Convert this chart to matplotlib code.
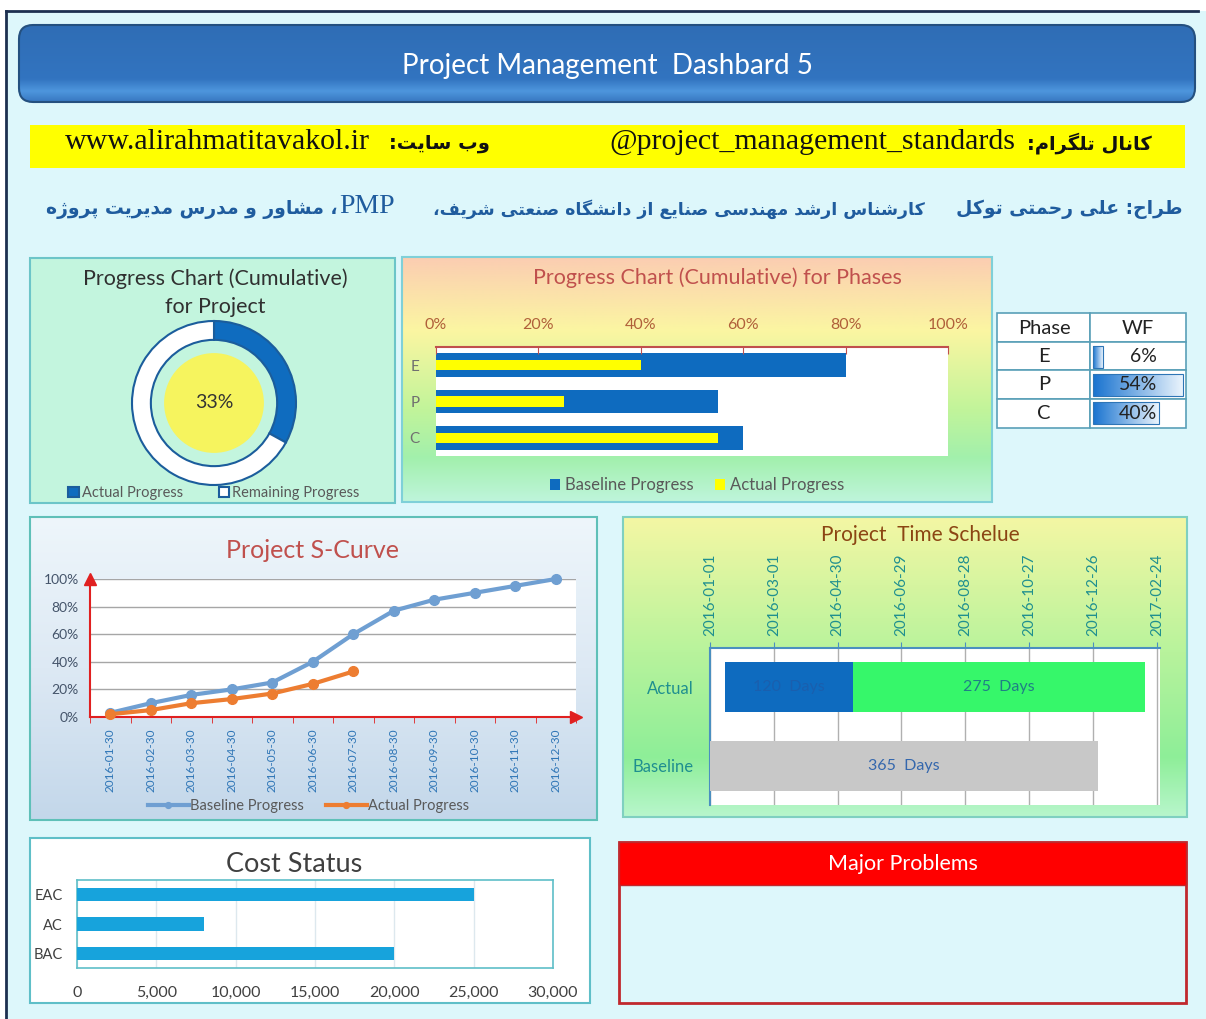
import numpy as np
import matplotlib
matplotlib.use("Agg")
import matplotlib.pyplot as plt
from matplotlib.patches import Rectangle, FancyBboxPatch, Circle
from matplotlib.colors import LinearSegmentedColormap
from matplotlib.ticker import PercentFormatter, FuncFormatter

plt.rcParams['font.family'] = ['Lato', 'DejaVu Sans']

# ---- data ----
title = "Project Management  Dashbard 5"
telegram = "@project_management_standards"
website = "www.alirahmatitavakol.ir"

donut_actual = 33

phases = ["E", "P", "C"]
phase_baseline = [0.80, 0.55, 0.60]
phase_actual = [0.40, 0.25, 0.55]
phase_wf = [6, 54, 40]

s_dates = ["2016-01-30", "2016-02-30", "2016-03-30", "2016-04-30", "2016-05-30", "2016-06-30",
           "2016-07-30", "2016-08-30", "2016-09-30", "2016-10-30", "2016-11-30", "2016-12-30"]
s_baseline = [0.03, 0.10, 0.16, 0.20, 0.25, 0.40, 0.60, 0.77, 0.85, 0.90, 0.95, 1.00]
s_actual = [0.02, 0.05, 0.10, 0.13, 0.17, 0.24, 0.33]

time_ticks = ["2016-01-01", "2016-03-01", "2016-04-30", "2016-06-29",
              "2016-08-28", "2016-10-27", "2016-12-26", "2017-02-24"]
tick_days = [0, 60, 120, 180, 240, 300, 360, 420]
actual_start = 14
actual_done = 120
actual_left = 275
baseline_days = 365

cost_labels = ["EAC", "AC", "BAC"]
cost_values = [25000, 8000, 20000]

# ---- persian shaping (matplotlib has no arabic shaping) ----
F = {
    '\u0627': ('\uFE8D', '\uFE8E'), '\u0622': ('\uFE81', '\uFE82'),
    '\u062F': ('\uFEA9', '\uFEAA'), '\u0630': ('\uFEAB', '\uFEAC'),
    '\u0631': ('\uFEAD', '\uFEAE'), '\u0632': ('\uFEAF', '\uFEB0'),
    '\u0698': ('\uFB8A', '\uFB8B'), '\u0648': ('\uFEED', '\uFEEE'),
    '\u0628': ('\uFE8F', '\uFE90', '\uFE91', '\uFE92'),
    '\u067E': ('\uFB56', '\uFB57', '\uFB58', '\uFB59'),
    '\u062A': ('\uFE95', '\uFE96', '\uFE97', '\uFE98'),
    '\u062B': ('\uFE99', '\uFE9A', '\uFE9B', '\uFE9C'),
    '\u062C': ('\uFE9D', '\uFE9E', '\uFE9F', '\uFEA0'),
    '\u0686': ('\uFB7A', '\uFB7B', '\uFB7C', '\uFB7D'),
    '\u062D': ('\uFEA1', '\uFEA2', '\uFEA3', '\uFEA4'),
    '\u062E': ('\uFEA5', '\uFEA6', '\uFEA7', '\uFEA8'),
    '\u0633': ('\uFEB1', '\uFEB2', '\uFEB3', '\uFEB4'),
    '\u0634': ('\uFEB5', '\uFEB6', '\uFEB7', '\uFEB8'),
    '\u0635': ('\uFEB9', '\uFEBA', '\uFEBB', '\uFEBC'),
    '\u0636': ('\uFEBD', '\uFEBE', '\uFEBF', '\uFEC0'),
    '\u0637': ('\uFEC1', '\uFEC2', '\uFEC3', '\uFEC4'),
    '\u0638': ('\uFEC5', '\uFEC6', '\uFEC7', '\uFEC8'),
    '\u0639': ('\uFEC9', '\uFECA', '\uFECB', '\uFECC'),
    '\u063A': ('\uFECD', '\uFECE', '\uFECF', '\uFED0'),
    '\u0641': ('\uFED1', '\uFED2', '\uFED3', '\uFED4'),
    '\u0642': ('\uFED5', '\uFED6', '\uFED7', '\uFED8'),
    '\u06A9': ('\uFB8E', '\uFB8F', '\uFB90', '\uFB91'),
    '\u06AF': ('\uFB92', '\uFB93', '\uFB94', '\uFB95'),
    '\u0644': ('\uFEDD', '\uFEDE', '\uFEDF', '\uFEE0'),
    '\u0645': ('\uFEE1', '\uFEE2', '\uFEE3', '\uFEE4'),
    '\u0646': ('\uFEE5', '\uFEE6', '\uFEE7', '\uFEE8'),
    '\u0647': ('\uFEE9', '\uFEEA', '\uFEEB', '\uFEEC'),
    '\u06CC': ('\uFBFC', '\uFBFD', '\uFBFE', '\uFBFF'),
}


def fa(s):
    out = []
    for i, c in enumerate(s):
        if c not in F:
            out.append(c)
            continue
        p = s[i - 1] if i > 0 else ''
        n = s[i + 1] if i + 1 < len(s) else ''
        jp = p in F and len(F[p]) == 4
        jn = n in F and len(F[c]) == 4
        f = F[c]
        if jp and jn:
            out.append(f[3])
        elif jp:
            out.append(f[1])
        elif jn:
            out.append(f[2])
        else:
            out.append(f[0])
    return ''.join(out)[::-1]


W, H = 1206, 1019
fig = plt.figure(figsize=(12.06, 10.19), dpi=100)
fig.patch.set_facecolor('white')
bg = fig.add_axes([0, 0, 1, 1])
bg.axis('off')

BG = '#ddf7fb'


def px_axes(x0, y0, x1, y1):
    return fig.add_axes([x0 / W, 1 - y1 / H, (x1 - x0) / W, (y1 - y0) / H])


def grad(x0, y0, x1, y1, stops, horizontal=False, z=1, ax=None):
    ax = ax or bg
    cmap = LinearSegmentedColormap.from_list('g', stops)
    arr = np.linspace(0, 1, 256).reshape(-1, 1)
    if horizontal:
        arr = arr.T
    return ax.imshow(arr, cmap=cmap, extent=(x0, x1, y1, y0), aspect='auto',
                     zorder=z, interpolation='bilinear')


def rect(x0, y0, x1, y1, **kw):
    r = Rectangle((x0, y0), x1 - x0, y1 - y0, **kw)
    bg.add_patch(r)
    return r


# page background and frame
rect(6, 11, W, H, facecolor=BG, edgecolor='none', zorder=0)
bg.plot([6, 6], [11, H], color='#1c3050', lw=2, zorder=5)
bg.plot([6, 1198], [11, 11], color='#1c3050', lw=2, zorder=5)

# header
hdr = FancyBboxPatch((19, 25), 1176, 77, boxstyle='round,pad=0,rounding_size=14',
                     facecolor='none', edgecolor='#24507f', lw=1.5, zorder=3)
bg.add_patch(hdr)
im = grad(19, 25, 1195, 102, [(0, '#2f6db5'), (0.7, '#3274c0'), (0.86, '#4e96dd'), (1, '#3777c0')], z=2)
im.set_clip_path(hdr)
bg.text(607, 66, title, color='white', fontsize=20, ha='center', va='center', zorder=4)

# yellow strip
FA_SIZE = 14
rect(30, 125, 1185, 168, facecolor='#ffff00', edgecolor='none', zorder=2)
bg.text(1152, 143, fa('کانال تلگرام:'), family=['DejaVu Sans'], fontweight='bold',
        fontsize=FA_SIZE, ha='right', va='center', color='#111111', zorder=3)
bg.text(1015, 142, telegram, family=['Liberation Serif'], fontsize=21.5,
        ha='right', va='center', color='#111111', zorder=3)
bg.text(490, 143, fa('وب سایت:'), family=['DejaVu Sans'], fontweight='bold',
        fontsize=FA_SIZE, ha='right', va='center', color='#111111', zorder=3)
bg.text(370, 142, website, family=['Liberation Serif'], fontsize=21.5,
        ha='right', va='center', color='#111111', zorder=3)

# designer line
BLUE_T = '#1f5c9e'
bg.text(1183, 209, fa('طراح: علی رحمتی توکل'), family=['DejaVu Sans'], fontweight='bold',
        fontsize=13.5, ha='right', va='center', color=BLUE_T, zorder=3)
bg.text(925, 209, fa('کارشناس ارشد مهندسی صنایع از دانشگاه صنعتی شریف،'), family=['DejaVu Sans'],
        fontweight='bold', fontsize=12.5, ha='right', va='center', color=BLUE_T, zorder=3)
bg.text(367, 206, 'PMP', family=['Liberation Serif'], fontsize=20, ha='center', va='center',
        color=BLUE_T, zorder=3)
bg.text(337, 209, fa('، مشاور و مدرس مدیریت پروژه'), family=['DejaVu Sans'], fontweight='bold',
        fontsize=13.5, ha='right', va='center', color=BLUE_T, zorder=3)

# ---- panel 1: donut ----
rect(30, 258, 395, 503, facecolor='#c3f5de', edgecolor='#6cc5c8', lw=1.5, zorder=1)
bg.text(215, 279, 'Progress Chart (Cumulative)', fontsize=15.5, ha='center',
        va='center', color='#303030', zorder=3)
bg.text(215, 307, 'for Project', fontsize=15.5, ha='center',
        va='center', color='#303030', zorder=3)
ax = px_axes(132, 321, 296, 485)
ax.set_facecolor('none')
wedges, _ = ax.pie([donut_actual, 100 - donut_actual], colors=['#0f6cbf', 'white'], startangle=90,
                   counterclock=False, radius=1,
                   wedgeprops=dict(width=0.23, edgecolor='#1b5d9c', linewidth=1.5))
ax.add_patch(Circle((0, 0), 0.6, color='#f6f45e', zorder=0))
ax.text(0, 0, f'{donut_actual}%', ha='center', va='center', fontsize=14, color='#333333')
ax.set_xlim(-1, 1)
ax.set_ylim(-1, 1)
ax.legend(wedges, ['Actual Progress', 'Remaining Progress'], loc='center',
          bbox_to_anchor=(0.5, -0.05), ncol=2, frameon=False, fontsize=10.5,
          handlelength=0.7, handleheight=0.7, handletextpad=0.2, columnspacing=2.5,
          labelcolor='#595959')

# ---- panel 2: phases ----
rect(402, 257, 992, 502, facecolor='none', edgecolor='#7fd0d8', lw=1.5, zorder=2)
grad(402, 257, 992, 502, [(0, '#fbcdb2'), (0.3, '#fbf6a2'), (0.62, '#c2f49a'),
                          (0.82, '#a2f0ac'), (1, '#bff5dc')], z=1)
bg.text(717, 278, 'Progress Chart (Cumulative) for Phases', fontsize=15.5, ha='center',
        va='center', color='#c0504d', zorder=3)
ax = px_axes(436, 347, 948, 456)
ax.set_facecolor('white')
yy = np.arange(len(phases))
ax.barh(yy, phase_baseline, height=0.66, color='#0e6bbf', label='Baseline Progress')
ax.barh(yy, phase_actual, height=0.28, color='#ffff00', label='Actual Progress')
ax.set_xlim(0, 1)
ax.set_ylim(2.5, -0.5)
ax.xaxis.tick_top()
ax.set_xticks(np.arange(0, 1.01, 0.2))
ax.xaxis.set_major_formatter(PercentFormatter(1, decimals=0))
ax.tick_params(axis='x', colors='#c0504d', labelcolor='#b0603a', direction='in', length=5,
               labelsize=11.5, pad=11)
ax.set_yticks(yy, phases)
ax.tick_params(axis='y', length=0, labelcolor='#707070', labelsize=11, pad=12)
for s in ['left', 'right', 'bottom']:
    ax.spines[s].set_visible(False)
ax.spines['top'].set_color('#c0504d')
ax.spines['top'].set_linewidth(1.5)
ax.legend(loc='center', bbox_to_anchor=(0.51, -0.27), ncol=2, frameon=False, fontsize=12,
          handlelength=0.6, handleheight=0.6, handletextpad=0.3, columnspacing=1.3,
          labelcolor='#595959')

# ---- WF table ----
cols = [997, 1090, 1186]
rows = [313, 342, 370, 399, 428]
for r in range(4):
    for c in range(2):
        rect(cols[c], rows[r], cols[c + 1], rows[r + 1], facecolor='white', edgecolor='#5aa0b8',
             lw=1.2, zorder=2)
bg.text(1044, 328, 'Phase', fontsize=14.5, ha='center', va='center', color='#222222', zorder=3)
bg.text(1138, 328, 'WF', fontsize=14.5, ha='center', va='center', color='#222222', zorder=3)
for i, p in enumerate(phases):
    bg.text(1044, (rows[i + 1] + rows[i + 2]) / 2, p, fontsize=14.5, ha='center', va='center',
            color='#222222', zorder=3)
ax = px_axes(1091, 343, 1185, 427)
ax.axis('off')
bars = ax.barh(yy, [v / 100 for v in phase_wf], height=0.8, color='none', edgecolor='#2e75b6',
               lw=0.8, zorder=3)
bar_cmap = LinearSegmentedColormap.from_list('wf', ['#1a74d0', '#e9f3fc'])
for b, v in zip(bars, phase_wf):
    g = ax.imshow(np.linspace(0, 1, 64).reshape(1, -1), cmap=bar_cmap, aspect='auto',
                  extent=(0, v / 100, b.get_y() + b.get_height(), b.get_y()), zorder=2)
    g.set_clip_path(b)
ax.set_xlim(-0.015, 0.555)
ax.set_ylim(2.5, -0.5)
for i, v in enumerate(phase_wf):
    yc = (rows[i + 1] + rows[i + 2]) / 2
    fig.text(1157 / W, 1 - yc / H, f'{v}%', fontsize=14, ha='right', va='center',
             color='#222222', zorder=4)

# ---- panel 3: S-curve ----
rect(30, 517, 597, 820, facecolor='none', edgecolor='#5fc0b8', lw=1.5, zorder=2)
grad(30, 517, 597, 820, [(0, '#eef6fb'), (0.5, '#dde9f4'), (1, '#c3d7ea')], z=1)
bg.text(313, 550, 'Project S-Curve', fontsize=18, ha='center', va='center', color='#c0504d',
        zorder=3)
ax = px_axes(90, 579, 576, 717)
ax.set_facecolor('white')
x = np.arange(len(s_dates))
ax.plot(x, s_baseline, color='#6f9fd2', lw=3, marker='o', ms=7, label='Baseline Progress',
        clip_on=False, zorder=4)
ax.plot(x[:len(s_actual)], s_actual, color='#ed7d31', lw=3, marker='o', ms=7,
        label='Actual Progress', clip_on=False, zorder=4)
ax.set_xlim(-0.5, 11.5)
ax.set_ylim(0, 1)
ax.set_yticks(np.arange(0, 1.01, 0.2))
ax.yaxis.set_major_formatter(PercentFormatter(1, decimals=0))
ax.yaxis.grid(True, color='#a6a6a6', lw=1)
ax.set_axisbelow(True)
ax.set_xticks(x, s_dates, rotation=90)
ax.set_xticks(np.arange(-0.5, 12, 1), minor=True)
ax.tick_params(axis='x', which='major', length=0, labelcolor='#2e75b6', labelsize=8.5, pad=8)
ax.tick_params(axis='x', which='minor', length=4, color='#e02020')
ax.tick_params(axis='y', length=0, labelcolor='#44546a', labelsize=10, pad=8)
for s in ['top', 'right']:
    ax.spines[s].set_visible(False)
for s in ['left', 'bottom']:
    ax.spines[s].set_color('#e02020')
    ax.spines[s].set_linewidth(1.5)
ax.plot([0], [1], marker='^', color='#e02020', ms=8, transform=ax.transAxes, clip_on=False)
ax.plot([1], [0], marker='>', color='#e02020', ms=8, transform=ax.transAxes, clip_on=False)
ax.legend(loc='center', bbox_to_anchor=(0.45, -0.645), ncol=2, frameon=False, fontsize=10.5,
          handlelength=2.8, handletextpad=0.1, columnspacing=1.5, labelcolor='#595959',
          markerscale=0.6)

# ---- panel 4: time schedule ----
rect(623, 517, 1187, 817, facecolor='none', edgecolor='#7fd0c0', lw=1.5, zorder=2)
grad(623, 517, 1187, 817, [(0, '#f4f7a4'), (0.45, '#b8f39c'), (0.8, '#8eee98'), (1, '#b8f6cc')], z=1)
bg.text(920, 535, 'Project  Time Schelue', fontsize=15, ha='center', va='center',
        color='#8b4513', zorder=3)
ax = px_axes(710, 648, 1160, 805)
ax.set_facecolor('white')
ax.barh(0, actual_done, left=actual_start, height=0.64, color='#0e6bbf', zorder=3)
ax.barh(0, actual_left, left=actual_start + actual_done, height=0.64, color='#36f76a', zorder=3)
ax.barh(1, baseline_days, height=0.64, color='#c8c8c8', zorder=3)
ax.text(actual_start + actual_done / 2, 0, f'{actual_done}  Days', ha='center', va='center',
        fontsize=11.5, color='#1a5fae', zorder=4)
ax.text(actual_start + actual_done + actual_left / 2, 0, f'{actual_left}  Days', ha='center',
        va='center', fontsize=11.5, color='#1f7f86', zorder=4)
ax.text(baseline_days / 2, 1, f'{baseline_days}  Days', ha='center', va='center', fontsize=11.5,
        color='#3467ad', zorder=4)
ax.set_xlim(0, 423)
ax.set_ylim(1.5, -0.5)
ax.xaxis.tick_top()
ax.set_xticks(tick_days, time_ticks, rotation=90)
ax.xaxis.grid(True, color='#b0b0b0', lw=1)
ax.set_axisbelow(True)
ax.tick_params(axis='x', colors='#4a8fc0', labelcolor='#1f8f8f', labelsize=11, length=4, pad=5)
ax.set_yticks([0, 1], ['Actual', 'Baseline'])
ax.tick_params(axis='y', length=0, labelcolor='#1f8f8f', labelsize=12, pad=12)
for s in ['right', 'bottom']:
    ax.spines[s].set_visible(False)
for s in ['top', 'left']:
    ax.spines[s].set_color('#4a8fc0')
    ax.spines[s].set_linewidth(1.5)

# ---- panel 5: cost status ----
rect(30, 838, 590, 1003, facecolor='white', edgecolor='#5fbfc8', lw=1.5, zorder=1)
bg.text(294, 864, 'Cost Status', fontsize=19.5, ha='center', va='center', color='#404040', zorder=3)
ax = px_axes(77, 880, 553, 968)
ax.set_facecolor('white')
cy = np.arange(len(cost_labels))
ax.barh(cy, cost_values, height=0.45, color='#17a3dc', zorder=3)
ax.set_xlim(0, 30000)
ax.set_ylim(2.5, -0.5)
ax.set_xticks(np.arange(0, 30001, 5000))
ax.xaxis.set_major_formatter(FuncFormatter(lambda v, p: f'{int(v):,}'))
ax.xaxis.grid(True, color='#dde8ee', lw=1)
ax.set_axisbelow(True)
ax.tick_params(axis='x', length=0, labelcolor='#404040', labelsize=11.5, pad=13)
ax.set_yticks(cy, cost_labels)
ax.tick_params(axis='y', length=0, labelcolor='#404040', labelsize=10.5, pad=10)
for s in ax.spines.values():
    s.set_color('#5fbfc8')
    s.set_linewidth(1.2)

# ---- panel 6: major problems ----
rect(619, 842, 1186, 1003, facecolor=BG, edgecolor='#c0282d', lw=2, zorder=2)
rect(619, 842, 1186, 885, facecolor='#ff0000', edgecolor='#c0282d', lw=1, zorder=3)
bg.text(903, 864, 'Major Problems', fontsize=15.5, ha='center', va='center', color='white', zorder=4)

bg.set_xlim(0, W)
bg.set_ylim(H, 0)
fig.savefig('out.png', dpi=100, facecolor=fig.get_facecolor())
